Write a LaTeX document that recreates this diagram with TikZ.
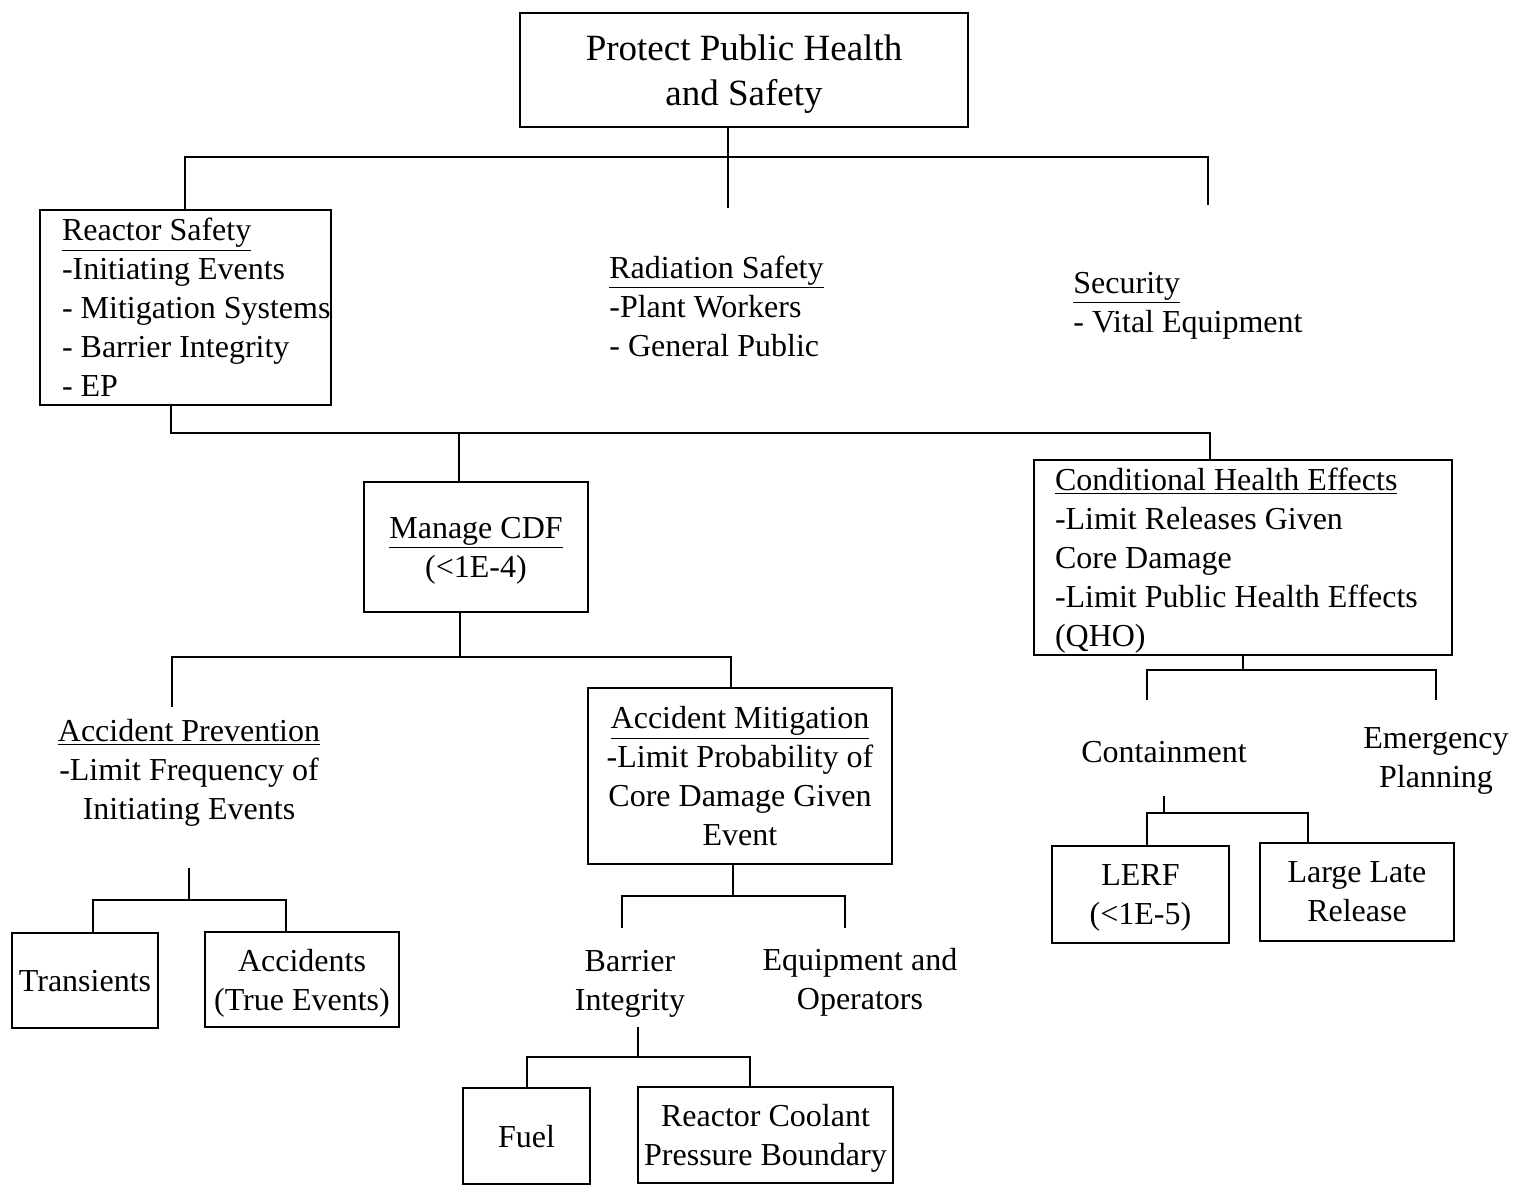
\documentclass[tikz,border=0pt]{standalone}
\usepackage{fontspec}
\setmainfont{Liberation Serif}
\usepackage{tikz}
\usetikzlibrary{positioning,calc}
\tikzstyle{box}=[draw,line width=1pt,inner sep=0pt,align=center,text depth=0pt]
\tikzstyle{lbox}=[draw,line width=1pt,inner xsep=11pt,inner ysep=0pt,align=left,text depth=0pt]
\tikzstyle{txt}=[inner sep=0pt]
\tikzstyle{wire}=[line width=1pt]

\begin{document}
\begin{tikzpicture}[x=0.5pt,y=-0.5pt,font=\fontsize{16}{19.5}\selectfont]
\useasboundingbox (0,0) rectangle (1523,1186);
% top goal
\node[box,minimum width=224pt,minimum height=57pt,font=\fontsize{18.5}{22.5}\selectfont]
  (top) at (744,70) {Protect Public Health\\and Safety};
% cornerstones
\node[lbox,minimum width=145.5pt,minimum height=97.5pt] (reactor) at (185.5,307.5)
  {\underline{Reactor Safety}\\-Initiating Events\\\makebox[123.5pt][l]{- Mitigation Systems}\\- Barrier Integrity\\- EP};
\node[txt,anchor=west,align=left] (rad) at (609,306)
  {\underline{Radiation Safety}\\-Plant Workers\\- General Public};
\node[txt,anchor=west,align=left] (sec) at (1073,305.5)
  {\underline{Security}\\- Vital Equipment};
% reactor safety branches
\node[box,minimum width=112pt,minimum height=65pt] (cdf) at (476,547)
  {\underline{Manage CDF}\\(<1E-4)};
\node[lbox,inner xsep=10.5pt,minimum width=209pt,minimum height=97.5pt] (cond) at (1243,557.5)
  {\underline{Conditional Health Effects}\\-Limit Releases Given\\Core Damage\\\makebox[188pt][l]{-Limit Public Health Effects}\\(QHO)};
% CDF branches
\node[txt,align=center] (prev) at (189,773)
  {\underline{Accident Prevention}\\-Limit Frequency of\\Initiating Events};
\node[box,minimum width=152pt,minimum height=88pt] (mitig) at (740,776)
  {\underline{Accident Mitigation}\\-Limit Probability of\\Core Damage Given\\Event};
\node[box,minimum width=73pt,minimum height=47.5pt] (trans) at (85,980.5) {Transients};
\node[box,minimum width=97pt,minimum height=47.5pt] (accid) at (302,979.5) {Accidents\\(True Events)};
\node[txt,align=center] (barr) at (630,983.5) {Barrier\\Integrity};
\node[txt,align=center] (equip) at (860,982) {Equipment and\\Operators};
\node[box,minimum width=63.5pt,minimum height=48pt] (fuel) at (526.5,1136) {Fuel};
\node[box,minimum width=127.5pt,minimum height=48pt] (rcpb) at (765.5,1135) {Reactor Coolant\\Pressure Boundary};
% conditional health effects branches
\node[txt] (cont) at (1164,752) {Containment};
\node[txt,align=center] (emer) at (1436,761) {Emergency\\Planning};
\node[box,minimum width=88.5pt,minimum height=48.5pt] (lerf) at (1140.5,894.5) {LERF\\(<1E-5)};
\node[box,minimum width=97pt,minimum height=49pt] (llr) at (1357,892) {Large Late\\Release};

% bus points
\coordinate (b1) at (728,157);
\coordinate (b1l) at (185,157);
\coordinate (b1r) at (1208,157);
\coordinate (radtop) at (728,208);
\coordinate (sectop) at (1208,205);
\coordinate (b2) at (459,433);
\coordinate (b2l) at (171,433);
\coordinate (b2r) at (1210,433);
\coordinate (b3) at (460,657);
\coordinate (b3l) at (172,657);
\coordinate (b3r) at (731,657);
\coordinate (prevtop) at (172,707);
\coordinate (pv) at (189,868);
\coordinate (b4) at (189,900);
\coordinate (b4l) at (93,900);
\coordinate (b4r) at (286,900);
\coordinate (b5) at (733,896);
\coordinate (b5l) at (622,896);
\coordinate (b5r) at (845,896);
\coordinate (barrtop) at (622,928);
\coordinate (equiptop) at (845,928);
\coordinate (bi) at (638,1027);
\coordinate (b6) at (638,1057);
\coordinate (b6l) at (527,1057);
\coordinate (b6r) at (750,1057);
\coordinate (b7) at (1243,670);
\coordinate (b7l) at (1147,670);
\coordinate (b7r) at (1436,670);
\coordinate (conttop) at (1147,700);
\coordinate (emertop) at (1436,700);
\coordinate (ct) at (1164,796);
\coordinate (b8) at (1164,813);
\coordinate (b8l) at (1147,813);
\coordinate (b8r) at (1308,813);

% connectors
\draw[wire] (top.south -| b1) -- (b1) -- (radtop);
\draw[wire] (reactor.north -| b1l) -- (b1l) -- (b1r) -- (sectop);
\draw[wire] (reactor.south -| b2l) -- (b2l) -- (b2r) -- (cond.north -| b2r);
\draw[wire] (b2) -- (cdf.north -| b2);
\draw[wire] (cdf.south -| b3) -- (b3);
\draw[wire] (prevtop) -- (b3l) -- (b3r) -- (mitig.north -| b3r);
\draw[wire] (pv) -- (b4);
\draw[wire] (trans.north -| b4l) -- (b4l) -- (b4r) -- (accid.north -| b4r);
\draw[wire] (mitig.south -| b5) -- (b5);
\draw[wire] (barrtop) -- (b5l) -- (b5r) -- (equiptop);
\draw[wire] (bi) -- (b6);
\draw[wire] (fuel.north -| b6l) -- (b6l) -- (b6r) -- (rcpb.north -| b6r);
\draw[wire] (cond.south -| b7) -- (b7);
\draw[wire] (conttop) -- (b7l) -- (b7r) -- (emertop);
\draw[wire] (ct) -- (b8);
\draw[wire] (lerf.north -| b8l) -- (b8l) -- (b8r) -- (llr.north -| b8r);
\end{tikzpicture}
\end{document}
